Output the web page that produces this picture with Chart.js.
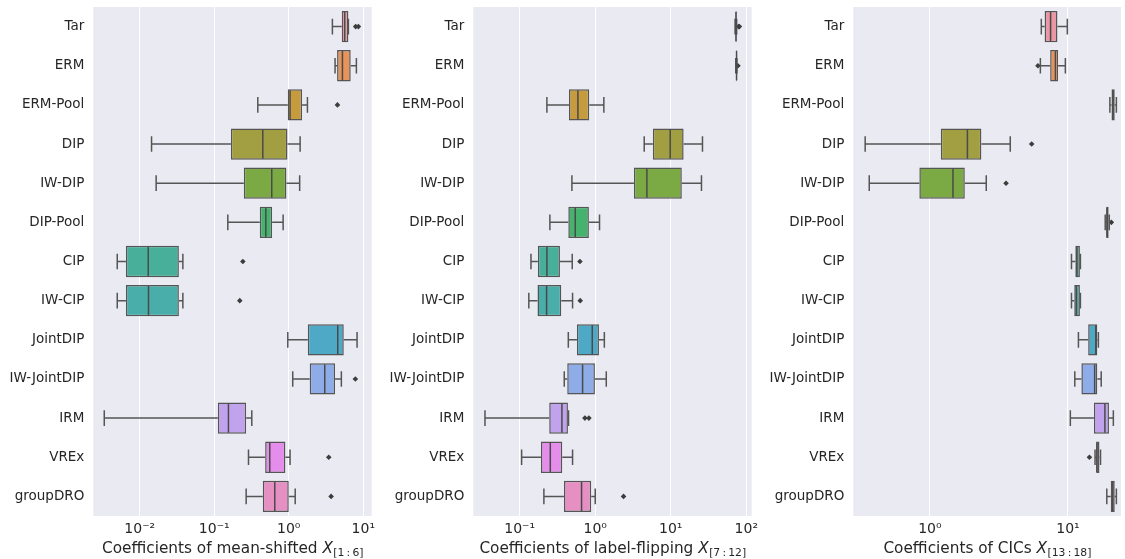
<!DOCTYPE html>
<html>
<head>
<meta charset="utf-8">
<script src="https://cdn.jsdelivr.net/npm/chart.js@4.4.0/dist/chart.umd.min.js"></script>
<style>
  html, body { margin: 0; padding: 0; background: #fff; }
  #wrap { position: relative; width: 1125px; height: 559px; }
  canvas { position: absolute; top: 0; }
</style>
</head>
<body>
<div id="wrap">
  <canvas id="meanChart" width="380" height="559" style="left:0px"></canvas>
  <canvas id="flipChart" width="380" height="559" style="left:380px"></canvas>
  <canvas id="cicChart" width="365" height="559" style="left:760px"></canvas>
</div>
<script>
const methods = ["Tar", "ERM", "ERM-Pool", "DIP", "IW-DIP", "DIP-Pool", "CIP", "IW-CIP",
  "JointDIP", "IW-JointDIP", "IRM", "VREx", "groupDRO"];

const boxColors = ["#EA96A3", "#E7935A", "#C59B3D", "#A29F42", "#7BAA45", "#45B36E", "#47AF9A",
  "#49ADAA", "#4DA9C5", "#8EACE8", "#C1A2ED", "#E48DEA", "#E68FC3"];

// mean-shifted X[1:6]
const meanLow  = [3.85, 4.18, 0.384, 0.0144, 0.0166, 0.152, 0.00499, 0.00499, 0.97, 1.13, 0.00334, 0.288, 0.268];
const meanQ1   = [5.14, 4.45, 0.97, 0.167, 0.249, 0.408, 0.00652, 0.00652, 1.80, 1.91, 0.1117, 0.482, 0.448];
const meanMed  = [5.63, 5.25, 1.04, 0.448, 0.591, 0.492, 0.0130, 0.0131, 4.54, 3.04, 0.155, 0.556, 0.649];
const meanQ3   = [6.31, 6.78, 1.51, 0.96, 0.93, 0.598, 0.0335, 0.0335, 5.47, 4.18, 0.268, 0.90, 1.0];
const meanHigh = [6.31, 8.08, 1.78, 1.42, 1.40, 0.84, 0.0379, 0.0379, 8.25, 5.08, 0.319, 1.04, 1.22];
const meanOut  = [[7.9, 8.6], [], [4.5], [], [], [], [0.242], [0.220], [], [7.83], [], [3.44], [3.70]];
const meanTicks = [0.01, 0.1, 1, 10];

// label-flipping X[7:12]
const flipLow  = [71, 72.5, 0.229, 4.45, 0.491, 0.251, 0.141, 0.132, 0.44, 0.389, 0.0347, 0.106, 0.209];
const flipQ1   = [72, 73.5, 0.449, 5.79, 3.25, 0.44, 0.174, 0.172, 0.572, 0.426, 0.246, 0.191, 0.385];
const flipMed  = [73, 74.3, 0.590, 9.83, 4.83, 0.544, 0.229, 0.227, 0.913, 0.68, 0.362, 0.254, 0.659];
const flipQ3   = [74.5, 75, 0.833, 14.8, 14.0, 0.824, 0.341, 0.355, 1.12, 0.99, 0.435, 0.366, 0.885];
const flipHigh = [74.5, 75, 1.30, 26.3, 25.5, 1.14, 0.496, 0.501, 1.32, 1.40, 0.443, 0.501, 1.0];
const flipOut  = [[79, 81], [77.5], [], [], [], [], [0.627], [0.633], [], [], [0.73, 0.824], [], [2.37]];
const flipTicks = [0.1, 1, 10, 100];

// CICs X[13:18]
const cicLow  = [6.41, 6.31, 20.1, 0.340, 0.364, 18.6, 10.6, 10.6, 11.9, 11.2, 10.4, 15.7, 19.1];
const cicQ1   = [6.77, 7.43, 20.65, 1.20, 0.839, 18.9, 11.3, 11.1, 14.0, 12.5, 15.4, 16.0, 20.4];
const cicMed  = [7.48, 8.11, 21.2, 1.87, 1.47, 19.2, 11.6, 11.5, 15.9, 15.6, 18.5, 16.2, 21.1];
const cicQ3   = [8.39, 8.48, 21.8, 2.36, 1.79, 19.7, 12.2, 12.2, 16.3, 16.3, 19.8, 16.9, 21.8];
const cicHigh = [9.89, 9.57, 22.4, 3.82, 2.56, 19.9, 12.3, 12.3, 16.6, 17.4, 21.3, 17.2, 22.4];
const cicOut  = [[], [6.06], [], [5.46], [3.56], [20.6], [], [], [], [], [], [14.3], []];
const cicTicks = [1, 10];

const FONT = "DejaVu Sans";
const TEXT = "#262626";
const LINE = "#555555";
const sup = { "-": "\u207B", "0": "\u2070", "1": "\u00B9", "2": "\u00B2", "3": "\u00B3" };

function powLabel(v) {
  const e = Math.round(Math.log10(v));
  return "10" + String(e).split("").map((c) => sup[c]).join("");
}

const plotBg = {
  id: "plotBg",
  beforeDraw(chart) {
    const { ctx, chartArea: a } = chart;
    ctx.save();
    ctx.fillStyle = "#EAEAF2";
    ctx.fillRect(a.left, a.top, a.width, a.height);
    ctx.restore();
  },
};

// whiskers, caps and medians, placed with the chart's own scales
const boxLines = {
  id: "boxLines",
  afterDatasetsDraw(chart, args, o) {
    const { ctx, scales: { x, y } } = chart;
    const bars = chart.getDatasetMeta(0).data;
    ctx.save();
    ctx.lineWidth = 1.5;
    o.low.forEach((lo, i) => {
      const yc = y.getPixelForValue(i);
      const h = bars[i].height;
      const xl = x.getPixelForValue(lo), x1 = x.getPixelForValue(o.q1[i]);
      const x3 = x.getPixelForValue(o.q3[i]), xh = x.getPixelForValue(o.high[i]);
      const xm = x.getPixelForValue(o.med[i]);
      ctx.strokeStyle = LINE;
      ctx.beginPath();
      ctx.moveTo(xl, yc); ctx.lineTo(x1, yc);
      ctx.moveTo(x3, yc); ctx.lineTo(xh, yc);
      ctx.moveTo(xl, yc - h / 4); ctx.lineTo(xl, yc + h / 4);
      ctx.moveTo(xh, yc - h / 4); ctx.lineTo(xh, yc + h / 4);
      ctx.stroke();
      ctx.strokeStyle = "#4a4a4a";
      ctx.beginPath();
      ctx.moveTo(xm, yc - h / 2 + 1); ctx.lineTo(xm, yc + h / 2 - 1);
      ctx.stroke();
    });
    ctx.restore();
  },
};

// x label with an italic X and a subscript range
const axisTitle = {
  id: "axisTitle",
  afterDraw(chart, args, o) {
    const { ctx, chartArea: a } = chart;
    ctx.save();
    ctx.fillStyle = TEXT;
    ctx.textBaseline = "alphabetic";
    const f1 = "15.3px '" + FONT + "'";
    const f2 = "italic 15.3px '" + FONT + "'";
    const f3 = "10.8px '" + FONT + "'";
    ctx.font = f1; const w1 = ctx.measureText(o.text).width;
    ctx.font = f2; const w2 = ctx.measureText("X").width;
    ctx.font = f3; const w3 = ctx.measureText(o.sub).width;
    let xs = (a.left + a.right) / 2 - (w1 + w2 + w3) / 2;
    const yb = 552.5;
    ctx.font = f1; ctx.fillText(o.text, xs, yb); xs += w1;
    ctx.font = f2; ctx.fillText("X", xs, yb); xs += w2 + 0.5;
    ctx.font = f3; ctx.fillText(o.sub, xs, yb + 3.5);
    ctx.restore();
  },
};

function makePanel(id, low, q1, med, q3, high, out, ticks, xMin, xMax, rightPad, title, sub) {
  const outPts = [];
  out.forEach((arr, i) => arr.forEach((v) => outPts.push({ x: v, y: methods[i] })));

  return new Chart(document.getElementById(id), {
    type: "bar",
    data: {
      labels: methods,
      datasets: [
        {
          data: methods.map((m, i) => [q1[i], q3[i]]),
          backgroundColor: boxColors,
          borderColor: LINE,
          borderWidth: 1.5,
          borderSkipped: false,
          barPercentage: 0.8,
          categoryPercentage: 1.0,
        },
        {
          type: "scatter",
          data: outPts,
          pointStyle: "rectRot",
          radius: 2.8,
          backgroundColor: "#3d3d3d",
          borderColor: "#3d3d3d",
          borderWidth: 0,
        },
      ],
    },
    options: {
      indexAxis: "y",
      responsive: false,
      animation: false,
      devicePixelRatio: 1,
      layout: { padding: { top: 7, right: rightPad, left: 0, bottom: 0 } },
      plugins: {
        legend: { display: false },
        tooltip: { enabled: false },
        boxLines: { low, q1, med, q3, high },
        axisTitle: { text: title, sub },
      },
      scales: {
        x: {
          type: "logarithmic",
          min: xMin,
          max: xMax,
          bounds: "data",
          afterBuildTicks: (s) => { s.ticks = ticks.map((v) => ({ value: v })); },
          afterFit: (s) => { s.height = 43; s.paddingLeft = 0; s.paddingRight = 0; },
          grid: { color: "#ffffff", lineWidth: 1, drawTicks: false },
          border: { display: false },
          ticks: {
            padding: 5,
            color: TEXT,
            font: { family: FONT, size: 14 },
            maxRotation: 0,
            autoSkip: false,
            callback: (v) => powLabel(v),
          },
        },
        y: {
          type: "category",
          offset: true,
          afterFit: (s) => { s.width = 93.3; s.paddingTop = 0; s.paddingBottom = 0; },
          grid: { display: false, drawTicks: false },
          border: { display: false },
          ticks: { padding: 9, color: TEXT, font: { family: FONT, size: 13.5 } },
        },
      },
    },
    plugins: [plotBg, boxLines, axisTitle],
  });
}

makePanel("meanChart", meanLow, meanQ1, meanMed, meanQ3, meanHigh, meanOut, meanTicks,
  0.00238, 12.97, 8.3, "Coefficients of mean-shifted ", "[1\u2009:\u20096]");
makePanel("flipChart", flipLow, flipQ1, flipMed, flipQ3, flipHigh, flipOut, flipTicks,
  0.0243, 117.9, 8.3, "Coefficients of label-flipping ", "[7\u2009:\u200912]");
makePanel("cicChart", cicLow, cicQ1, cicMed, cicQ3, cicHigh, cicOut, cicTicks,
  0.279, 24.2, 1, "Coefficients of CICs ", "[13\u2009:\u200918]");
</script>
</body>
</html>
